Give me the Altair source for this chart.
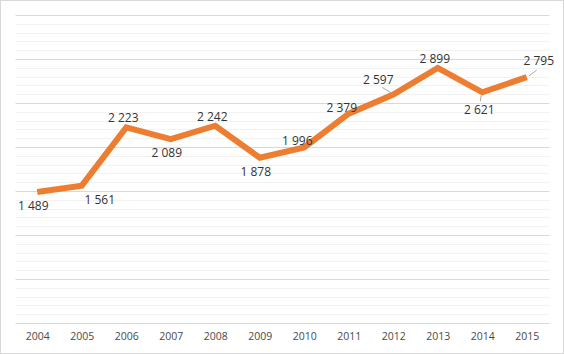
import altair as alt
import pandas as pd

years = ["2004", "2005", "2006", "2007", "2008", "2009", "2010", "2011", "2012", "2013", "2014", "2015"]
values = [1489, 1561, 2223, 2089, 2242, 1878, 1996, 2379, 2597, 2899, 2621, 2795]
placement = ["below", "right", "above", "below", "above", "below", "aboveleft", "aboveleft", "upleft", "above", "down", "upright"]

labels = [f"{v:,}".replace(",", " ") for v in values]
df = pd.DataFrame({"year": years, "value": values, "label": labels, "place": placement})

# label offsets (style) per placement
offsets = {
    "below": (-4, 14),
    "right": (18, 14),
    "above": (-3, -9),
    "aboveleft": (-7, -6),
    "upleft": (-15, -14),
    "down": (-3, 18),
    "upright": (12, -16),
}
# leader line offsets (start dx, dy, end dx, dy)
leaders = {
    "upleft": (-1, -1, -11, -7),
    "down": (-1, 3, -2, 9),
    "upright": (2, -1, 10, -7),
}

W, H = 534, 308
PAD = {"left": 15, "top": 15, "right": 15, "bottom": 31}
FONT = "Open Sans"

x = alt.X("year:O", sort=years, scale=alt.Scale(type="point", padding=0.5),
          axis=alt.Axis(title=None, labelAngle=0, domain=False, ticks=False,
                        labelPadding=8, labelFont=FONT, labelFontSize=10.5,
                        labelColor="#4a4a4a", grid=False))
y = alt.Y("value:Q", scale=alt.Scale(domain=[0, 3500], nice=False, zero=True),
          axis=alt.Axis(title=None, labels=False, ticks=False, domain=False,
                        values=list(range(0, 3501, 100)),
                        gridColor={"condition": {"test": "datum.value % 500 === 0", "value": "#d9d9d9"},
                                   "value": "#f2f2f2"},
                        gridWidth=1))

base = alt.Chart(df)

border = base.mark_rect(fill=None, stroke="#d9d9d9", strokeWidth=1).encode(
    x=alt.value(-PAD["left"] + 0.5), x2=alt.value(W + PAD["right"] - 0.5),
    y=alt.value(-PAD["top"] + 0.5), y2=alt.value(H + PAD["bottom"] - 0.5))

line = base.mark_line(color="#ed7d31", strokeWidth=6, strokeJoin="miter", strokeCap="butt").encode(x=x, y=y)

layers = [border, line]
for p, (sx, sy, ex, ey) in leaders.items():
    layers.append(
        base.transform_filter(alt.datum.place == p).mark_rule(
            color="#a6a6a6", strokeWidth=1, xOffset=sx, yOffset=sy, x2Offset=ex, y2Offset=ey
        ).encode(x=x, y=y, x2="year:O", y2="value:Q")
    )
for p, (dx, dy) in offsets.items():
    layers.append(
        base.transform_filter(alt.datum.place == p).mark_text(
            dx=dx, dy=dy, font=FONT, fontSize=12, color="#333333", align="center", baseline="middle"
        ).encode(x=x, y=y, text="label:N")
    )

chart = alt.layer(*layers).properties(
    width=W, height=H, autosize="none", padding=PAD, background="white"
).configure_view(stroke=None)

chart.save("out.html", embed_options={"renderer": "svg", "actions": False})
